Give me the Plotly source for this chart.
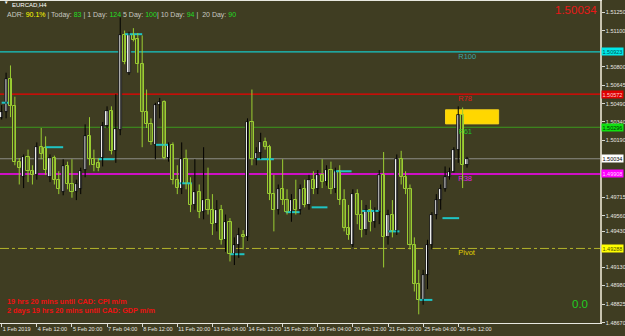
import plotly.graph_objects as go
import numpy as np

# ---------------- data ----------------
opens = [1.5037, 1.5042, 1.5070, 1.5047, 1.5001, 1.4988, 1.5005, 1.4993, 1.4990, 1.5013,
         1.5012, 1.4988, 1.5004, 1.4986, 1.4976, 1.4997, 1.4982, 1.4976, 1.4978, 1.4994,
         1.5022, 1.5003, 1.5000, 1.5004, 1.5031, 1.5043, 1.5010, 1.5027, 1.5106, 1.5075,
         1.5106, 1.5103, 1.5082, 1.5042, 1.5032, 1.5015, 1.5048, 1.5051, 1.5004, 1.5015,
         1.4986, 1.4978, 1.5003, 1.4982, 1.4965, 1.4976, 1.4959, 1.4969, 1.4961, 1.4949,
         1.4961, 1.4936, 1.4951, 1.4924, 1.4932, 1.4940, 1.4938, 1.5034, 1.5003, 1.5008,
         1.5017, 1.5013, 1.4974, 1.4961, 1.4978, 1.4969, 1.4959, 1.4969, 1.4961, 1.4978,
         1.4965, 1.4986, 1.4978, 1.4990, 1.4984, 1.4994, 1.4978, 1.4993, 1.4969, 1.4946,
         1.4932, 1.4974, 1.4957, 1.4944, 1.4961, 1.4951, 1.4959, 1.4990, 1.4938, 1.4957,
         1.4943, 1.5003, 1.4988, 1.4978, 1.4932, 1.4899, 1.4886, 1.4907, 1.4932, 1.4957,
         1.4969, 1.4978, 1.4988, 1.4992, 1.5011, 1.5040, 1.4998]
highs = [1.5048, 1.5075, 1.5081, 1.5055, 1.5004, 1.5007, 1.5011, 1.4998, 1.5017, 1.5029,
         1.5022, 1.5007, 1.5006, 1.4993, 1.5003, 1.5001, 1.5003, 1.4986, 1.4996, 1.5032,
         1.5038, 1.5011, 1.5004, 1.5034, 1.5047, 1.5047, 1.5057, 1.5121, 1.5110, 1.5109,
         1.5112, 1.5108, 1.5106, 1.5061, 1.5037, 1.5050, 1.5054, 1.5052, 1.5017, 1.5017,
         1.4998, 1.5017, 1.5011, 1.4988, 1.5003, 1.4982, 1.5013, 1.4996, 1.4974, 1.4969,
         1.4965, 1.4957, 1.4954, 1.4938, 1.4946, 1.4944, 1.5037, 1.5061, 1.5013, 1.5025,
         1.5021, 1.5015, 1.4990, 1.4982, 1.5003, 1.4978, 1.4974, 1.4986, 1.4982, 1.4986,
         1.4990, 1.4993, 1.4994, 1.5003, 1.4998, 1.5001, 1.4996, 1.4998, 1.4978, 1.4965,
         1.4978, 1.4978, 1.4969, 1.4965, 1.4969, 1.4963, 1.4994, 1.5009, 1.4961, 1.4969,
         1.5007, 1.5010, 1.4993, 1.4982, 1.4938, 1.4911, 1.4911, 1.4936, 1.4959, 1.4974,
         1.4982, 1.4997, 1.4996, 1.5013, 1.5047, 1.5046, 1.5005]
lows = [1.5036, 1.5037, 1.5038, 1.4998, 1.4982, 1.4979, 1.4984, 1.4982, 1.4986, 1.5003,
        1.4990, 1.4984, 1.4982, 1.4974, 1.4973, 1.4978, 1.4971, 1.4969, 1.4974, 1.4988,
        1.4998, 1.4993, 1.4993, 1.4997, 1.5029, 1.5007, 1.5000, 1.5023, 1.5082, 1.5073,
        1.5101, 1.5075, 1.5013, 1.5029, 1.5015, 1.5003, 1.5037, 1.5003, 1.5001, 1.4982,
        1.4974, 1.4974, 1.4978, 1.4959, 1.4961, 1.4954, 1.4953, 1.4957, 1.4940, 1.4943,
        1.4932, 1.4926, 1.4918, 1.4915, 1.4921, 1.4928, 1.4935, 1.4998, 1.4998, 1.5003,
        1.5011, 1.4969, 1.4943, 1.4957, 1.4965, 1.4957, 1.4951, 1.4957, 1.4957, 1.4963,
        1.4961, 1.4974, 1.4974, 1.4979, 1.4981, 1.4974, 1.4975, 1.4965, 1.4943, 1.4936,
        1.4930, 1.4949, 1.4938, 1.4940, 1.4943, 1.4946, 1.4949, 1.4913, 1.4932, 1.4938,
        1.4940, 1.4982, 1.4974, 1.4928, 1.4893, 1.4874, 1.4882, 1.4895, 1.4928, 1.4953,
        1.4961, 1.4976, 1.4986, 1.4992, 1.5000, 1.4979, 1.4996]
closes = [1.5042, 1.5070, 1.5047, 1.5001, 1.4996, 1.5005, 1.4993, 1.4990, 1.5013, 1.5007,
          1.4994, 1.5004, 1.4986, 1.4978, 1.4997, 1.4982, 1.4976, 1.4982, 1.4993, 1.5022,
          1.5003, 1.4998, 1.4996, 1.5031, 1.5043, 1.5010, 1.5028, 1.5106, 1.5084, 1.5106,
          1.5102, 1.5082, 1.5042, 1.5032, 1.5017, 1.5048, 1.5051, 1.5004, 1.5015, 1.4986,
          1.4979, 1.5003, 1.4982, 1.4965, 1.4976, 1.4959, 1.4969, 1.4961, 1.4949, 1.4961,
          1.4936, 1.4951, 1.4924, 1.4932, 1.4940, 1.4938, 1.5034, 1.5003, 1.5008, 1.5017,
          1.5013, 1.4974, 1.4961, 1.4978, 1.4969, 1.4959, 1.4969, 1.4961, 1.4978, 1.4965,
          1.4986, 1.4978, 1.4990, 1.4984, 1.4994, 1.4978, 1.4993, 1.4969, 1.4946, 1.4940,
          1.4974, 1.4957, 1.4944, 1.4961, 1.4951, 1.4959, 1.4990, 1.4938, 1.4957, 1.4943,
          1.5003, 1.4988, 1.4978, 1.4932, 1.4899, 1.4886, 1.4907, 1.4932, 1.4957, 1.4969,
          1.4978, 1.4988, 1.4992, 1.5011, 1.5040, 1.4998, 1.50034]

x_tick_bars = [0, 8, 16, 24, 32, 40, 48, 56, 64, 72, 80, 88, 96, 104]
x_tick_labels = ["1 Feb 2019", "4 Feb 12:00", "5 Feb 20:00", "7 Feb 04:00", "8 Feb 12:00",
                 "11 Feb 20:00", "13 Feb 04:00", "14 Feb 12:00", "15 Feb 20:00",
                 "19 Feb 04:00", "20 Feb 12:00", "21 Feb 20:00", "25 Feb 04:00", "26 Feb 12:00"]

y_tick_values = [1.51250, 1.51100, 1.50800, 1.50645, 1.50490, 1.50340, 1.50190,
                 1.49715, 1.49560, 1.49430, 1.49130, 1.48980, 1.48825, 1.48670]

# horizontal cyan segments (bar start, bar end, price)
seg_start = [0, 9.8, 22, 28, 35, 40.5, 52, 58, 64.7, 70.6, 75.8, 82, 88, 95.2, 100.4]
seg_end = [1.5, 14, 25.7, 32, 38, 43.3, 55.3, 62, 68, 74.2, 79.7, 86, 90.6, 98.1, 104.2]
seg_level = [1.5050, 1.5013, 1.5003, 1.5107, 1.5015, 1.4983, 1.4924, 1.5003, 1.4959,
             1.4963, 1.4993, 1.4960, 1.4943, 1.4886, 1.4954]

level_names = ["R100", "R78", "R61", "R38", "Pivot"]
level_values = [1.50923, 1.50572, 1.50296, 1.49908, 1.49288]
level_colors = ["#16c8c8", "#f00000", "#3c9a1e", "#ff00ff", "#b4b42a"]
level_text_colors = ["#3aa6a6", "#e01818", "#22cc22", "#e020e0", "#e0d000"]
level_dash = ["solid", "solid", "solid", "solid", "dashdot"]
level_width = [1.2, 1.2, 1.0, 1.5, 1.0]

current_price = 1.50034
zone_bars = [101.1, 113.2]
zone_prices = [1.50324, 1.50441]

adr_values = {"ADR": "90.1%", "Today": "83", "1 Day": "124", "5 Day": "100",
              "10 Day": "94", "20 Day": "90"}
news_lines = ["19 hrs 20 mins until CAD: CPI m/m",
              "2 days 19 hrs 20 mins until CAD: GDP m/m"]

# ---------------- styling ----------------
BG = "#3f3d22"
BULL_FILL = "#ffffff"
BULL_LINE = "#000000"
BEAR_LINE = "#9acd32"
FONT = "Liberation Sans, Arial, sans-serif"

o = np.array(opens); h = np.array(highs); l = np.array(lows); c = np.array(closes)
xb = np.arange(len(o))
bull = c >= o

fig = go.Figure()

# level labels (scatter text, drawn beneath candle bodies)
fig.add_trace(go.Scatter(
    x=[104.0] * len(level_names),
    y=[v - 0.00042 for v in level_values],
    mode="text", text=level_names, textposition="middle right",
    textfont=dict(family=FONT, size=7.5, color=level_text_colors),
    hoverinfo="skip", showlegend=False))

# cyan segments
sx, sy = [], []
for a, b, v in zip(seg_start, seg_end, seg_level):
    sx += [a, b, None]; sy += [v, v, None]
fig.add_trace(go.Scatter(x=sx, y=sy, mode="lines",
                         line=dict(color="#1fc4c4", width=2),
                         hoverinfo="skip", showlegend=False))

# wicks
for mask, col in [(bull, BULL_LINE), (~bull, BEAR_LINE)]:
    wx, wy = [], []
    for i in xb[mask]:
        wx += [i, i, None]; wy += [l[i], h[i], None]
    fig.add_trace(go.Scatter(x=wx, y=wy, mode="lines",
                             line=dict(color=col, width=1),
                             hoverinfo="skip", showlegend=False))

# bodies
base = np.minimum(o, c)
height = np.maximum(np.abs(c - o), 0.00002)
fig.add_trace(go.Bar(x=xb[bull], y=height[bull], base=base[bull], width=0.72,
                     marker=dict(color=BULL_FILL, line=dict(color=BULL_LINE, width=0.8)),
                     hoverinfo="skip", showlegend=False))
fig.add_trace(go.Bar(x=xb[~bull], y=height[~bull], base=base[~bull], width=0.72,
                     marker=dict(color=BG, line=dict(color=BEAR_LINE, width=1)),
                     hoverinfo="skip", showlegend=False))

shapes = []
# zone rectangle
shapes.append(dict(type="rect", xref="x", yref="y", x0=zone_bars[0], x1=zone_bars[1],
                   y0=zone_prices[0], y1=zone_prices[1], fillcolor="#ffd700",
                   line=dict(color="#f5d21a", width=1), layer="below"))
# level lines
for v, col, d, w in zip(level_values, level_colors, level_dash, level_width):
    shapes.append(dict(type="line", xref="paper", yref="y", x0=0, x1=1, y0=v, y1=v,
                       line=dict(color=col, width=w, dash=d), layer="below"))
# bid line
shapes.append(dict(type="line", xref="paper", yref="y", x0=0, x1=1,
                   y0=current_price, y1=current_price,
                   line=dict(color="#8c8c86", width=1), layer="below"))

annotations = []
# price boxes on the right axis
box_bg = ["#00e8e8", "#e00000", "#10e010", "#ff00ff", "#ffff00", "#ffffff"]
box_fg = ["#005050", "#ffd0d0", "#003000", "#ffd0ff", "#505000", "#000000"]
for v, bg, fg in zip(level_values + [current_price], box_bg, box_fg):
    annotations.append(dict(xref="paper", yref="y", x=1.0, y=v, xanchor="left",
                            yanchor="middle", xshift=1, text="%.5f" % v, showarrow=False,
                            bgcolor=bg, borderpad=0.5,
                            font=dict(family=FONT, size=5.5, color=fg)))

# title
annotations.append(dict(xref="paper", yref="paper", x=0.004, y=0.995, xanchor="left",
                        yanchor="middle", text="▼", showarrow=False,
                        font=dict(family=FONT, size=4.5, color="#ffffff")))
annotations.append(dict(xref="paper", yref="paper", x=0.016, y=0.988, xanchor="left",
                        yanchor="middle", text="EURCAD,H4", showarrow=False,
                        font=dict(family=FONT, size=6, color="#ffffff")))
lab = "#c8c8c0"; yel = "#ffff00"; grn = "#22dd22"
adr_txt = ("<span style='color:%s'>ADR: </span><span style='color:%s'>%s</span>"
           "<span style='color:%s'> | Today: </span><span style='color:%s'>%s</span>"
           "<span style='color:%s'> | 1 Day: </span><span style='color:%s'>%s</span>"
           "<span style='color:%s'> 5 Day: </span><span style='color:%s'>%s</span>"
           "<span style='color:%s'>| 10 Day: </span><span style='color:%s'>%s</span>"
           "<span style='color:%s'> |  20 Day: </span><span style='color:%s'>%s</span>") % (
    lab, yel, adr_values["ADR"], lab, grn, adr_values["Today"], lab, grn, adr_values["1 Day"],
    lab, grn, adr_values["5 Day"], lab, grn, adr_values["10 Day"], lab, grn, adr_values["20 Day"])
annotations.append(dict(xref="paper", yref="paper", x=0.009, y=0.958, xanchor="left",
                        yanchor="middle", text=adr_txt, showarrow=False,
                        font=dict(family=FONT, size=7, color=lab)))
# top right price
annotations.append(dict(xref="paper", yref="paper", x=0.999, y=0.973, xanchor="right",
                        yanchor="middle", text="%.5f" % current_price, showarrow=False,
                        font=dict(family=FONT, size=11.5, color="#e81818")))
# bottom right 0.0
annotations.append(dict(xref="paper", yref="paper", x=0.967, y=0.059, xanchor="center",
                        yanchor="middle", text="0.0", showarrow=False,
                        font=dict(family=FONT, size=11.5, color="#22cc22")))
# news lines
for k, t in enumerate(news_lines):
    annotations.append(dict(xref="paper", yref="paper", x=0.009, y=0.068 - k * 0.028,
                            xanchor="left", yanchor="middle", text="<b>%s</b>" % t,
                            showarrow=False,
                            font=dict(family=FONT, size=7.3, color="#ee1111")))

fig.update_layout(
    width=625, height=336,
    margin=dict(l=0, r=25, t=1, b=13, autoexpand=False),
    paper_bgcolor=BG, plot_bgcolor=BG,
    barmode="overlay", bargap=0,
    showlegend=False,
    shapes=shapes, annotations=annotations,
    xaxis=dict(range=[-0.387, 136.29], showgrid=False, zeroline=False, automargin=False,
               tickmode="array", tickvals=x_tick_bars, ticktext=x_tick_labels,
               tickangle=0,
               ticks="outside", ticklen=3, tickcolor="#d8d8d0",
               ticklabelposition="outside right",
               tickfont=dict(family=FONT, size=5.5, color="#e6e6e0"),
               showline=True, linecolor="#e8e8e0", linewidth=1, mirror=True),
    yaxis=dict(range=[1.48668, 1.51346], side="right", showgrid=False, zeroline=False,
               automargin=False,
               tickmode="array", tickvals=y_tick_values,
               ticktext=["%.5f" % v for v in y_tick_values],
               ticks="outside", ticklen=3, tickcolor="#d8d8d0",
               tickfont=dict(family=FONT, size=5.5, color="#e6e6e0"),
               showline=True, linecolor="#c8c4b0", linewidth=1.5, mirror=True),
)

fig.write_html("out.html")
